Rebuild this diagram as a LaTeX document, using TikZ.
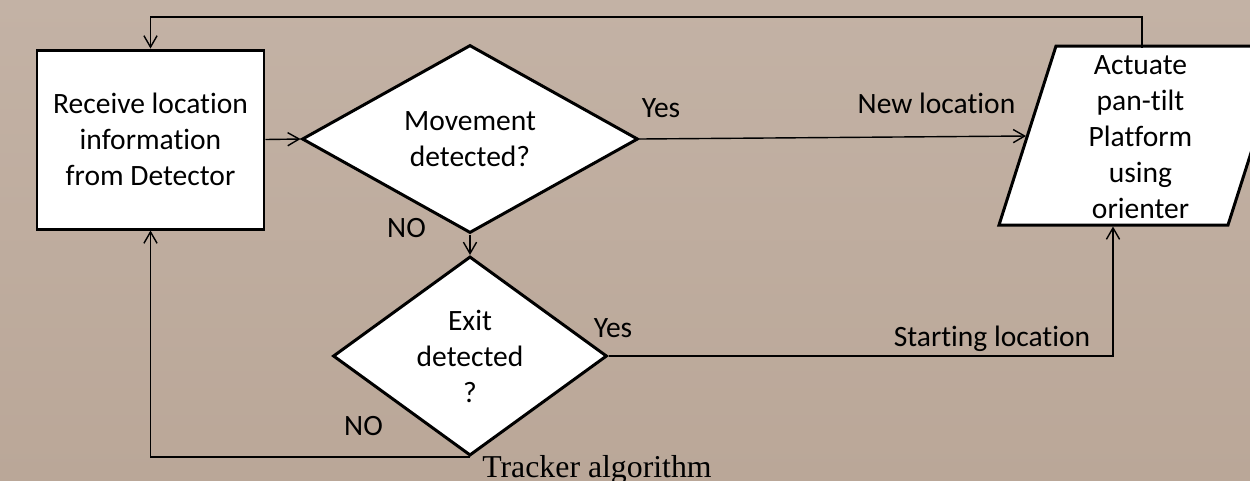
\documentclass[tikz,border=0pt]{standalone}
\usepackage{fontspec}
\setmainfont{Carlito}[Ligatures={NoCommon}]
\newfontfamily\titulo{Liberation Serif}
\usetikzlibrary{shapes.geometric,arrows.meta}

\definecolor{fondoA}{RGB}{195,178,165}
\definecolor{fondoB}{RGB}{186,167,152}

\begin{document}
\begin{tikzpicture}[
	texto/.style={font=\fontsize{16.8}{20.5}\selectfont, align=center},
	borde/.style={draw, line width=1.7pt, fill=white},
	bloque/.style={texto, borde, inner sep=0pt},
	flecha/.style={line width=0.8pt, -{Straight Barb[length=6.5pt,width=7.5pt]}},
	etiqueta/.style={texto, anchor=base, inner sep=0pt}]

\clip (0,0) rectangle (25,-9.6);
\shade[top color=fondoA, bottom color=fondoB] (0,0) rectangle (25,-9.6);

% Bloques
\node[bloque, rectangle, minimum width=4.54cm, minimum height=3.58cm] (R) at (3.01,-2.79)
	{Receive location\\information\\from Detector};
\node[bloque, diamond, minimum width=6.72cm, minimum height=3.76cm] (M) at (9.4,-2.78)
	{Movement\\detected?};
\node[bloque, diamond, minimum width=5.48cm, minimum height=3.78cm] (E) at (9.4,-7.12)
	{Exit\\detected\\?};

% Paralelogramo
\draw[borde] (19.98,-4.5) -- (21.12,-0.92) -- (25.7,-0.92) -- (24.56,-4.5) -- cycle;
\node[texto, inner sep=0pt] (A) at (22.81,-2.75)
	{Actuate\\pan-tilt\\Platform\\using\\orienter};
\coordinate (Aw) at (20.52,-2.72);
\coordinate (An) at (22.84,-0.95);
\coordinate (As) at (22.26,-4.53);

% Conectores
\draw[flecha] (R.east) -- (M.west);
\draw[flecha] (M.east) -- (Aw);
\draw[flecha] (M.south) -- (E.north);
\draw[flecha] (E.south) -| (R.south);
\draw[flecha] (E.east) -| (As);
\draw[flecha] (An) -- ++(0,0.61) -| (R.north);

% Etiquetas
\foreach \x/\y/\t [count=\i] in {13.22/-2.34/Yes, 18.73/-2.26/New location, 8.13/-4.74/NO,
		12.26/-6.74/Yes, 19.84/-6.92/Starting location, 7.27/-8.70/NO}
	\node[etiqueta] (L\i) at (\x,\y) {\t};

\node[anchor=base, inner sep=0pt, font=\titulo\fontsize{18.1}{22}\selectfont] (T) at (11.94,-9.54)
	{Tracker algorithm};
\end{tikzpicture}
\end{document}
